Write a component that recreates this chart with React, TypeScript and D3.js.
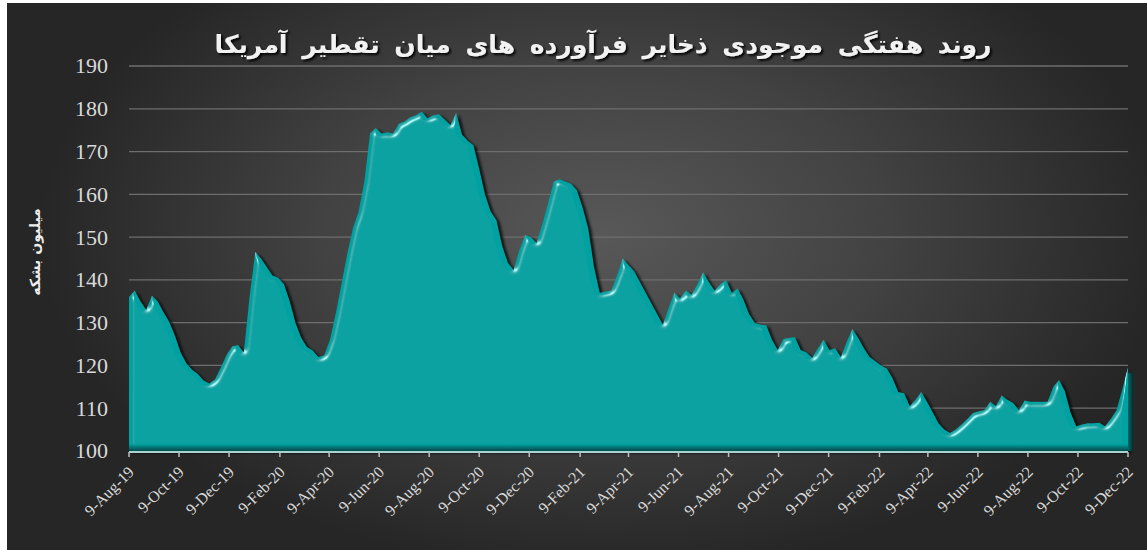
import * as d3 from "d3"

const startDate = new Date(2019, 7, 9)

// weekly stocks, million barrels
const stocks = [
  136, 137.5, 135, 133, 136.3, 135, 132.5, 130.2, 127, 123,
  120.5, 119, 118, 116.5, 115.8, 116.8, 119.5, 122.5, 124.5, 124.8,
  123, 136, 146.5, 145, 143, 141, 140.5, 139, 135, 130,
  126.5, 124.3, 123.5, 122, 122.3, 126, 132, 139, 146, 152,
  156, 163, 174.3, 175.5, 174.2, 174.5, 174.2, 176.5, 177, 178,
  178.5, 179.3, 177.8, 178.5, 178.7, 177.5, 176.2, 179, 174, 172.5,
  171.5, 166, 160, 156, 154, 148, 144, 142.3, 147, 150.5,
  150, 148.6, 153, 158, 163, 163.5, 163, 162.5, 161, 157,
  152, 143, 137, 137.3, 137.5, 141, 145, 143.5, 142, 139.5,
  137, 134.5, 132, 129.5, 133.5, 137, 135.7, 137.5, 136.5, 139,
  141.8, 139.5, 137.5, 139, 140, 137, 138, 135.5, 132, 130,
  129.5, 129.4, 126, 123.6, 126.2, 126.5, 126.6, 123.6, 123, 121.8,
  124, 126, 123.6, 124, 122, 125.5, 128.5, 126.5, 124, 122,
  121, 120, 119.3, 117, 113.8, 113.5, 110.5, 112, 113.8, 111.5,
  109, 106.5, 105, 104.2, 105, 106.2, 107.5, 108.9, 109.3, 109.6,
  111.5, 110.5, 113, 112, 111.2, 109.6, 111.8, 111.5, 111.5, 111.5,
  111.5, 115, 116.6, 114, 109, 105.8, 106.2, 106.5, 106.5, 106.6,
  105.8, 107.5, 109.5, 114.3, 119.6,
]

const weeks = stocks.map((_, i) => d3.timeDay.offset(startDate, i * 7))

const yTicks = [100, 110, 120, 130, 140, 150, 160, 170, 180, 190]
const xTicks = d3.range(0, 21).map((i) => d3.timeMonth.offset(startDate, i * 2))

const title = "روند هفتگی موجودی ذخایر فرآورده های میان تقطیر آمریکا"
const yTitle = "میلیون بشکه"

const width = 1147
const height = 550
const left = 129
const right = 1128
const top = 66
const bottom = 451

export default function App() {
  const x = d3.scaleTime().domain([startDate, weeks[weeks.length - 1]]).range([left, right])
  const y = d3.scaleLinear().domain([100, 190]).range([bottom, top])
  const fmt = d3.timeFormat("%-d-%b-%y")

  const area = d3
    .area<number>()
    .x((_, i) => x(weeks[i]))
    .y0(y(100))
    .y1((d) => y(d))

  const path = area(stocks) ?? ""

  return (
    <svg
      width={width}
      height={height}
      style={{ position: "absolute", left: 0, top: 0, display: "block" }}
    >
      <defs>
        <radialGradient id="bg" cx="0.53" cy="0.42" r="0.62" gradientTransform="translate(0.1,0) scale(0.8,1)">
          <stop offset="0" stopColor="#585858" />
          <stop offset="0.5" stopColor="#424242" />
          <stop offset="1" stopColor="#262626" />
        </radialGradient>
        <linearGradient id="floor" x1="0" y1="0" x2="0" y2="1">
          <stop offset="0" stopColor="#03a0a0" stopOpacity="0" />
          <stop offset="0.45" stopColor="#047e7e" />
          <stop offset="1" stopColor="#034a4b" />
        </linearGradient>
        <linearGradient id="side" x1="0" y1="0" x2="1" y2="0">
          <stop offset="0" stopColor="#036869" />
          <stop offset="1" stopColor="#022f30" />
        </linearGradient>
        <filter id="shadow" x="-5%" y="-10%" width="110%" height="120%">
          <feGaussianBlur in="SourceAlpha" stdDeviation="1.8" />
          <feOffset dx="3" dy="2" result="off" />
          <feComponentTransfer>
            <feFuncA type="linear" slope="0.85" />
          </feComponentTransfer>
        </filter>
        <filter id="bevel" x="-2%" y="-5%" width="104%" height="110%">
          <feGaussianBlur in="SourceAlpha" stdDeviation="2.5" result="blur" />
          <feSpecularLighting
            in="blur"
            surfaceScale="6"
            specularConstant="1"
            specularExponent="30"
            lightingColor="#c8ffff"
            result="spec"
          >
            <feDistantLight azimuth="235" elevation="25" />
          </feSpecularLighting>
          <feComposite in="spec" in2="SourceAlpha" operator="in" result="specIn" />
          <feComposite in="SourceGraphic" in2="specIn" operator="arithmetic" k1="0" k2="1" k3="0.75" k4="0" />
        </filter>
        <filter id="textShadow" x="-5%" y="-30%" width="110%" height="160%">
          <feDropShadow dx="2" dy="2" stdDeviation="1.2" floodColor="#000" floodOpacity="0.9" />
        </filter>
      </defs>

      <rect width={width} height={height} fill="#fff" />
      <rect x={7} y={3} width={width - 7} height={height - 3} fill="url(#bg)" />

      {yTicks.map((t) => (
        <g key={t}>
          {t > 100 && (
            <line x1={left} x2={right} y1={y(t)} y2={y(t)} stroke="#6e6e6e" strokeWidth={1.3} />
          )}
          <text
            x={108}
            y={y(t)}
            dy="0.34em"
            textAnchor="end"
            fontFamily="Liberation Serif"
            fontSize={22}
            fill="#d9d9d9"
          >
            {t}
          </text>
        </g>
      ))}

      <path d={path} filter="url(#shadow)" />
      <rect x={right} y={y(stocks[stocks.length - 1]) + 6} width={5} height={y(100) - y(stocks[stocks.length - 1]) - 6} fill="url(#side)" />
      <path d={path} fill="#03a1a1" filter="url(#bevel)" />
      <rect x={left} y={y(100) - 8} width={right - left} height={8} fill="url(#floor)" />

      <line x1={left} x2={right} y1={452} y2={452} stroke="#a9d3d3" strokeWidth={2} />
      {xTicks.map((t, i) => {
        const px = x(t)
        return (
          <g key={i}>
            <line x1={px} x2={px} y1={452} y2={457} stroke="#bfbfbf" strokeWidth={1.5} />
            <text
              transform={`translate(${px + 6},${473}) rotate(-45)`}
              textAnchor="end"
              fontFamily="Liberation Serif"
              fontSize={16}
              fill="#d9d9d9"
            >
              {fmt(t)}
            </text>
          </g>
        )
      })}

      <text
        transform="translate(40,252) rotate(-90)"
        textAnchor="middle"
        fontFamily="DejaVu Sans"
        fontWeight="bold"
        fontSize={14}
        fill="#eeeeee"
        direction="rtl"
      >
        {yTitle}
      </text>

      <text
        x={603}
        y={53}
        textAnchor="middle"
        fontFamily="DejaVu Sans"
        fontWeight="bold"
        fontSize={25}
        wordSpacing={6}
        fill="#f2f2f2"
        direction="rtl"
        filter="url(#textShadow)"
      >
        {title}
      </text>
    </svg>
  )
}
